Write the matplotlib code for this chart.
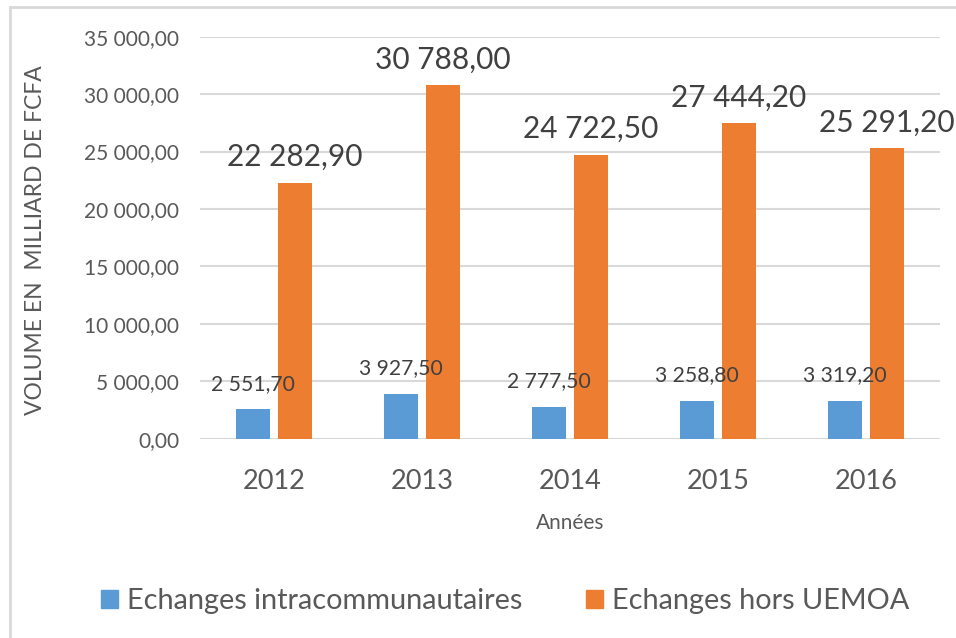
import matplotlib
matplotlib.use("Agg")
import matplotlib.pyplot as plt
import numpy as np
from matplotlib.lines import Line2D
from matplotlib.patches import Patch

plt.rcParams['font.family'] = ['Lato', 'DejaVu Sans']

years = ["2012", "2013", "2014", "2015", "2016"]
intra = [2551.70, 3927.50, 2777.50, 3258.80, 3319.20]
hors = [22282.90, 30788.00, 24722.50, 27444.20, 25291.20]
series_names = ["Echanges intracommunautaires", "Echanges hors UEMOA"]
yticks = [0, 5000, 10000, 15000, 20000, 25000, 30000, 35000]

BLUE = "#5B9BD5"
ORANGE = "#ED7D31"
TICK_COL = "#595959"
LABEL_COL = "#404040"
GRID_COL = "#D9D9D9"


def fr(v):
    s = f"{v:,.2f}"
    return s.replace(",", " ").replace(".", ",")


W, H = 956, 638
fig = plt.figure(figsize=(W / 100, H / 100), dpi=100)
ax = fig.add_axes([200 / W, (H - 438.7) / H, 740 / W, 402 / H])

x = np.arange(len(years))
bw = 0.23
off = 0.142
ax.bar(x - off, intra, bw, color=BLUE, zorder=3)
ax.bar(x + off, hors, bw, color=ORANGE, zorder=3)

for xi, v in zip(x, intra):
    ax.annotate(fr(v), (xi - off, v), xytext=(0, 18.5), textcoords="offset points",
                ha="center", va="center", fontsize=15.2, color=LABEL_COL)
for xi, v in zip(x, hors):
    ax.annotate(fr(v), (xi + off, v), xytext=(0, 18.5), textcoords="offset points",
                ha="center", va="center", fontsize=21.5, color=LABEL_COL)

ax.set_xlim(-0.5, len(years) - 0.5)
ax.set_ylim(0, 35000)
ax.set_yticks(yticks)
ax.set_yticklabels([fr(t) for t in yticks], fontsize=15, color=TICK_COL)
ax.set_xticks(x)
ax.set_xticklabels(years, fontsize=19.5, color=TICK_COL)
ax.tick_params(axis="both", length=0)
ax.tick_params(axis="y", pad=15)
ax.tick_params(axis="x", pad=22)
ax.grid(axis="y", color=GRID_COL, linewidth=1.5, zorder=0)
for s in ax.spines.values():
    s.set_visible(False)

fig.text(570 / W, 1 - 523 / H, "Années", ha="center", va="center",
         fontsize=15, color=TICK_COL)
fig.text(36 / W, 1 - 240 / H, "VOLUME EN  MILLIARD DE FCFA", ha="center", va="center",
         rotation=90, fontsize=16.5, color=TICK_COL)

handles = [Patch(color=BLUE), Patch(color=ORANGE)]
fig.legend(handles, series_names, loc="center", bbox_to_anchor=(505 / W, 1 - 601 / H),
           ncol=2, frameon=False, fontsize=20.8, labelcolor=TICK_COL,
           handlelength=0.6, handleheight=0.6, handletextpad=0.3, columnspacing=2.2)

# outer chart frame
fig.add_artist(Line2D([10 / W, 10 / W], [0, 1 - 7 / H], transform=fig.transFigure,
                      color=GRID_COL, linewidth=2))
fig.add_artist(Line2D([10 / W, 1], [1 - 7 / H, 1 - 7 / H], transform=fig.transFigure,
                      color=GRID_COL, linewidth=2))

fig.savefig("out.png", dpi=100)
